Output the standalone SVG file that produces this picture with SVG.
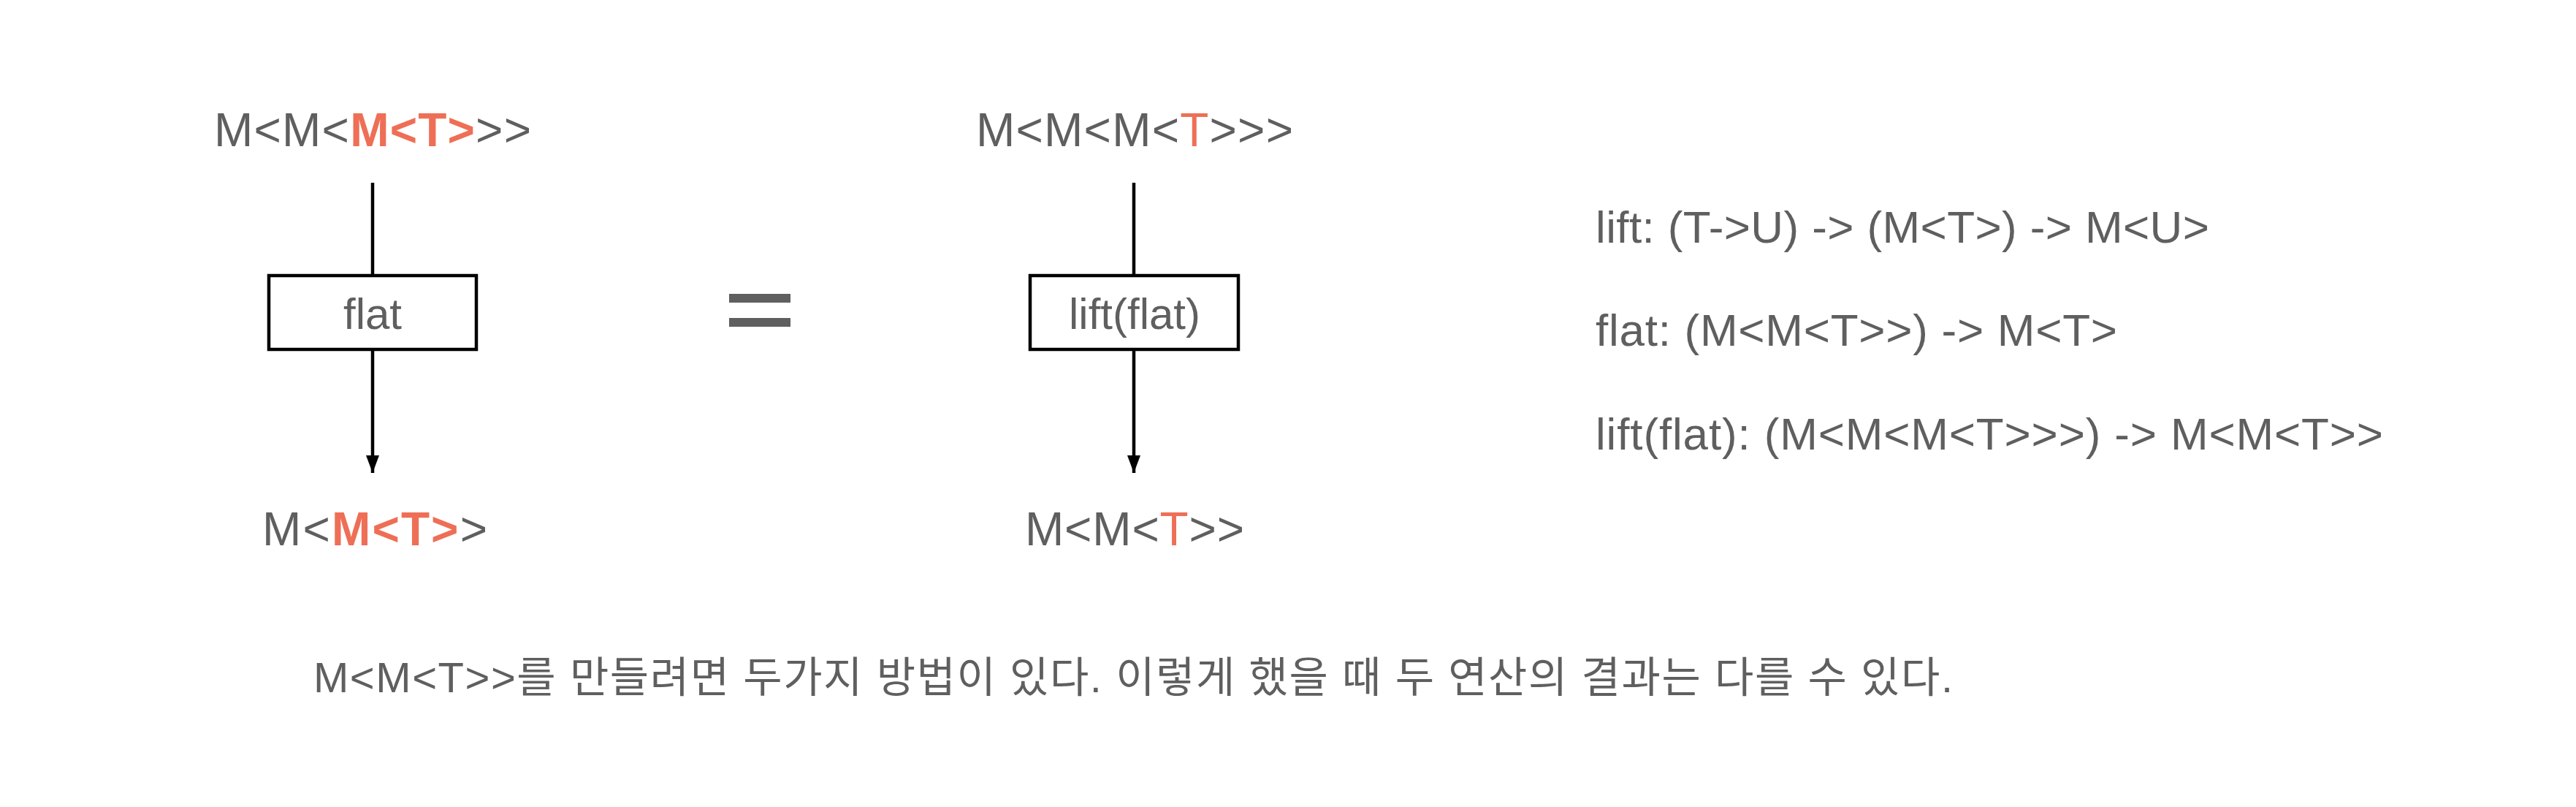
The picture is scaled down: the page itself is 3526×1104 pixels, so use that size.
<svg xmlns="http://www.w3.org/2000/svg" width="3526" height="1104" viewBox="0 0 3526 1104">
<defs>
<style>
.t{font-family:"Liberation Sans",Arial,"Noto Sans CJK KR",sans-serif;fill:#5f5f5f}
.hl{fill:#ee6f56;font-weight:bold}
.ho{fill:#ee6f56}
.box{fill:#fff;stroke:#000;stroke-width:4.5}
.ln{stroke:#000;stroke-width:4.5;fill:none}
</style>
<marker id="ah" viewBox="0 0 24 18" refX="24" refY="9" markerWidth="24" markerHeight="18" markerUnits="userSpaceOnUse" orient="auto">
<path d="M0,0 L24,9 L0,18 Z" fill="#000"/>
</marker>
</defs>
<rect width="3526" height="1104" fill="#fff"/>
<g id="connectors">
<line class="ln" x1="510" y1="250" x2="510" y2="377"/>
<line class="ln" x1="510" y1="478" x2="510" y2="647" marker-end="url(#ah)"/>
<line class="ln" x1="1552" y1="250" x2="1552" y2="377"/>
<line class="ln" x1="1552" y1="478" x2="1552" y2="647" marker-end="url(#ah)"/>
</g>
<g id="left-top"><text class="t" x="293" y="200" font-size="64" textLength="434" lengthAdjust="spacing">M&lt;M&lt;<tspan class="hl">M&lt;T&gt;</tspan>&gt;&gt;</text></g>
<g id="left-box"><rect class="box" x="368" y="377" width="284" height="101"/><text class="t" x="510" y="450" font-size="60" text-anchor="middle">flat</text></g>
<g id="left-bottom"><text class="t" x="359" y="746" font-size="64" textLength="308" lengthAdjust="spacing">M&lt;<tspan class="hl">M&lt;T&gt;</tspan>&gt;</text></g>
<g id="equals"><rect x="998" y="402" width="84" height="12" fill="#5f5f5f"/><rect x="998" y="435" width="84" height="12" fill="#5f5f5f"/></g>
<g id="right-top"><text class="t" x="1336" y="200" font-size="64" textLength="434" lengthAdjust="spacing">M&lt;M&lt;M&lt;<tspan class="ho">T</tspan>&gt;&gt;&gt;</text></g>
<g id="right-box"><rect class="box" x="1410" y="377" width="285" height="101"/><text class="t" x="1553" y="450" font-size="60" text-anchor="middle">lift(flat)</text></g>
<g id="right-bottom"><text class="t" x="1403" y="746" font-size="64" textLength="300" lengthAdjust="spacing">M&lt;M&lt;<tspan class="ho">T</tspan>&gt;&gt;</text></g>
<g id="signatures">
<text class="t" x="2184" y="332" font-size="62" textLength="840" lengthAdjust="spacing">lift: (T-&gt;U) -&gt; (M&lt;T&gt;) -&gt; M&lt;U&gt;</text>
<text class="t" x="2184" y="473" font-size="62" textLength="714" lengthAdjust="spacing">flat: (M&lt;M&lt;T&gt;&gt;) -&gt; M&lt;T&gt;</text>
<text class="t" x="2184" y="615" font-size="62" textLength="1078" lengthAdjust="spacing">lift(flat): (M&lt;M&lt;M&lt;T&gt;&gt;&gt;) -&gt; M&lt;M&lt;T&gt;&gt;</text>
</g>
<g id="caption"><text class="t" x="429" y="947" font-size="58" textLength="2244" lengthAdjust="spacing">M&lt;M&lt;T&gt;&gt;를 만들려면 두가지 방법이 있다. 이렇게 했을 때 두 연산의 결과는 다를 수 있다.</text></g>
</svg>
